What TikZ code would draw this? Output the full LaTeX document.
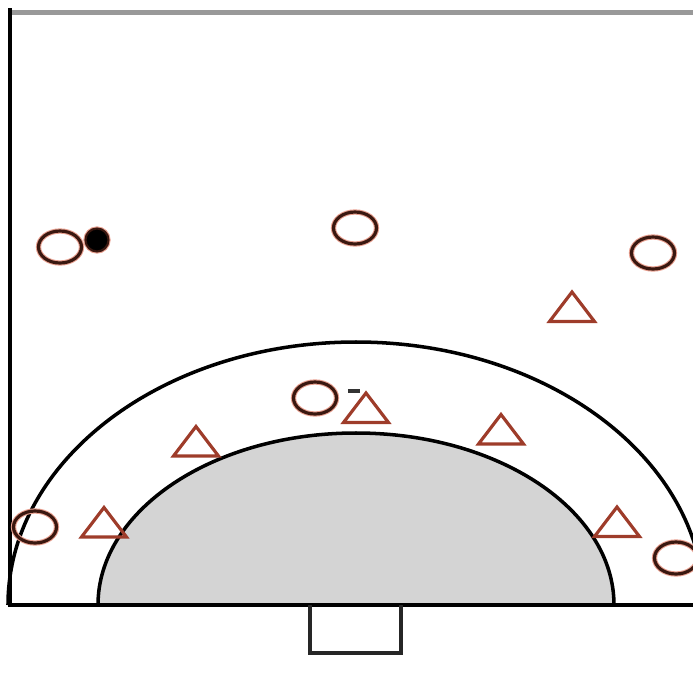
\documentclass[tikz,border=0pt]{standalone}
\usetikzlibrary{shapes.geometric}
\definecolor{atk}{HTML}{3A1810}
\definecolor{halo}{HTML}{E8A090}
\definecolor{defc}{HTML}{9E3C2A}
\definecolor{zone}{HTML}{D4D4D4}
\begin{document}
\begin{tikzpicture}[x=0.01cm,y=-0.01cm,
  court/.style={line width=1.0pt, draw=black},
  attacker/.style={ellipse, draw=atk, line width=0.9pt, minimum width=0.43cm, minimum height=0.32cm, inner sep=0pt, preaction={draw=halo, line width=1.5pt}},
  ballstyle/.style={circle, fill=black, draw=atk, line width=0.6pt, minimum size=0.23cm, inner sep=0pt, preaction={draw=halo, line width=1.2pt}},
  tri/.style={draw=defc, line width=0.9pt, line join=miter},
  defender/.pic={\draw[tri] (0,-15) -- (22.5,14.5) -- (-22.5,14.5) -- cycle;}
]
\useasboundingbox (0,0) rectangle (693,675);
\clip (0,0) rectangle (693,675);
% goal area (filled inner zone)
\fill[zone] (98,605) arc[start angle=180, end angle=360, x radius=258, y radius=172] -- cycle;
\draw[court] (98,605) arc[start angle=180, end angle=360, x radius=258, y radius=172];
% outer arc
\draw[court] (8,605) arc[start angle=180, end angle=360, x radius=348, y radius=263];
% court lines
\draw[line width=1.3pt, draw=gray!80] (10,12.5) -- (693,12.5);
\draw[court] (10,8) -- (10,605) -- (693,605);
% goal
\draw[line width=1.0pt, draw=black!85] (310,605) -- (310,653) -- (401,653) -- (401,605);
% small mark
\draw[line width=1.0pt, draw=black!80] (348,391) -- (360,391);
% attackers
\node[attacker] (a1) at (60,247) {};
\node[attacker] (a2) at (355,228) {};
\node[attacker] (a3) at (653,253) {};
\node[attacker] (a4) at (315,398) {};
\node[attacker] (a5) at (35,527) {};
\node[attacker] (a6) at (676,558) {};
\node[ballstyle] (ball) at (97,240) {};
% defenders
\coordinate (d1) at (572,307);
\coordinate (d2) at (366,408);
\coordinate (d3) at (196,441.5);
\coordinate (d4) at (501,429.5);
\coordinate (d5) at (104,522.5);
\coordinate (d6) at (617,522);
\foreach \d in {d1,d2,d3,d4,d5,d6} \pic at (\d) {defender};
\end{tikzpicture}
\end{document}
